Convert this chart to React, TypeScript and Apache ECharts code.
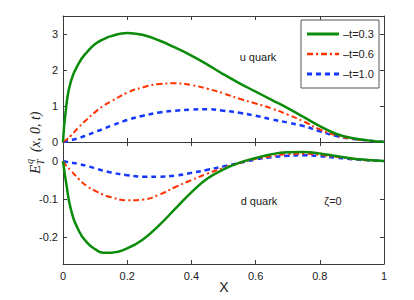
import React, { useEffect, useRef } from "react";
import * as echarts from "echarts";

const xs = [0, 0.01, 0.025, 0.05, 0.075, 0.1, 0.125, 0.15, 0.2, 0.25, 0.3, 0.35, 0.4, 0.45, 0.5, 0.55, 0.6, 0.65, 0.7, 0.75, 0.8, 0.85, 0.9, 0.95, 1.0];

const seriesNames = ["–t=0.3", "–t=0.6", "–t=1.0"];

const uT03 = [0, 0.98, 1.7, 2.2, 2.5, 2.72, 2.85, 2.94, 3.03, 2.97, 2.82, 2.62, 2.4, 2.15, 1.88, 1.63, 1.4, 1.17, 0.94, 0.69, 0.44, 0.23, 0.11, 0.045, 0];
const uT06 = [0, 0.06, 0.18, 0.42, 0.63, 0.83, 1.0, 1.13, 1.37, 1.52, 1.61, 1.63, 1.58, 1.48, 1.35, 1.2, 1.07, 0.93, 0.76, 0.57, 0.35, 0.19, 0.09, 0.04, 0];
const uT10 = [0, 0.02, 0.05, 0.11, 0.19, 0.28, 0.36, 0.45, 0.61, 0.73, 0.82, 0.87, 0.9, 0.91, 0.87, 0.81, 0.73, 0.63, 0.54, 0.44, 0.3, 0.17, 0.09, 0.04, 0];

const dT03 = [0, -0.058, -0.128, -0.184, -0.214, -0.231, -0.2405, -0.2405, -0.229, -0.205, -0.168, -0.125, -0.082, -0.046, -0.022, -0.004, 0.008, 0.018, 0.023, 0.024, 0.02, 0.013, 0.007, 0.003, 0];
const dT06 = [0, -0.012, -0.025, -0.048, -0.066, -0.078, -0.088, -0.095, -0.103, -0.101, -0.088, -0.068, -0.05, -0.033, -0.018, -0.005, 0.006, 0.013, 0.018, 0.019, 0.016, 0.011, 0.006, 0.002, 0];
const dT10 = [0, -0.002, -0.004, -0.008, -0.013, -0.019, -0.025, -0.03, -0.037, -0.041, -0.041, -0.038, -0.031, -0.023, -0.014, -0.005, 0.004, 0.01, 0.014, 0.015, 0.013, 0.009, 0.005, 0.002, 0];

const xTicks = [0, 0.2, 0.4, 0.6, 0.8, 1];
const uTicks = [0, 1, 2, 3];
const dTicks = [-0.2, -0.1, 0];

const colors = ["#0a8c0a", "#ff3300", "#1438ff"];
const lineTypes: any[] = ["solid", [6, 3, 2, 3], [5, 4]];
const lineWidths = [2.5, 2, 2.5];

const AXIS = "#3a3a3a";
const FONT = "Liberation Sans";

function pairs(vals: number[]) {
  return xs.map((x, i) => [x, vals[i]]);
}

export default function App() {
  const ref = useRef<HTMLDivElement>(null);
  useEffect(() => {
    if (!ref.current) return;
    const chart = echarts.init(ref.current, null, { renderer: "svg" });

    const xBase = (gridIndex: number, position: string, labels: boolean) => ({
      type: "value",
      gridIndex,
      position,
      min: 0,
      max: 1,
      interval: 0.2,
      axisLine: { show: true, onZero: false, lineStyle: { color: AXIS, width: 1 } },
      axisTick: { show: true, inside: true, length: 4, lineStyle: { color: AXIS } },
      axisLabel: {
        show: labels,
        color: "#222",
        fontSize: 11,
        fontFamily: FONT,
        margin: 6,
        customValues: xTicks,
      },
      splitLine: { show: false },
    });
    const yBase = (gridIndex: number, position: string, labels: boolean, min: number, max: number, ticks: number[]) => ({
      type: "value",
      gridIndex,
      position,
      min,
      max,
      axisLine: { show: true, onZero: false, lineStyle: { color: AXIS, width: 1 } },
      axisTick: { show: true, inside: true, length: 4, lineStyle: { color: AXIS }, customValues: ticks },
      axisLabel: {
        show: labels,
        color: "#222",
        fontSize: 11,
        fontFamily: FONT,
        margin: 5,
        customValues: ticks,
      },
      splitLine: { show: false },
    });

    const mk = (vals: number[], i: number, axisIdx: number) => ({
      type: "line",
      name: seriesNames[i],
      xAxisIndex: axisIdx,
      yAxisIndex: axisIdx,
      data: pairs(vals),
      showSymbol: false,
      symbol: "none",
      smooth: 0.5,
      lineStyle: { color: colors[i], width: lineWidths[i], type: lineTypes[i] },
      itemStyle: { color: colors[i] },
      z: 3 - i,
    });

    // legend drawn as graphic elements (box, line samples, labels)
    const legendX = 301;
    const legendY = 20;
    const legendItems: any[] = [
      {
        type: "rect",
        shape: { x: legendX, y: legendY, width: 78, height: 68 },
        style: { fill: "#fff", stroke: "#555", lineWidth: 1 },
        z: 10,
      },
    ];
    seriesNames.forEach((name, i) => {
      const cy = legendY + 14 + i * 20;
      legendItems.push({
        type: "line",
        shape: { x1: legendX + 6, y1: cy, x2: legendX + 38, y2: cy },
        style: { stroke: colors[i], lineWidth: lineWidths[i] + 0.5, lineDash: lineTypes[i] === "solid" ? null : lineTypes[i] },
        z: 11,
      });
      legendItems.push({
        type: "text",
        x: legendX + 42,
        y: cy,
        style: { text: name, fill: "#222", font: `11px ${FONT}`, align: "left", verticalAlign: "middle" },
        z: 11,
      });
    });

    chart.setOption({
      animation: false,
      backgroundColor: "#fff",
      grid: [
        { left: 63, top: 16, width: 321, height: 126, show: false },
        { left: 63, top: 142, width: 321, height: 122, show: false },
      ],
      xAxis: [xBase(0, "bottom", false), xBase(0, "top", false), xBase(1, "bottom", true), xBase(1, "top", false)],
      yAxis: [
        yBase(0, "left", true, 0, 3.5, uTicks),
        yBase(0, "right", false, 0, 3.5, uTicks),
        yBase(1, "left", true, -0.27, 0.05, dTicks),
        yBase(1, "right", false, -0.27, 0.05, dTicks),
      ],
      series: [
        mk(uT03, 0, 0),
        mk(uT06, 1, 0),
        mk(uT10, 2, 0),
        mk(dT03, 0, 2),
        mk(dT06, 1, 2),
        mk(dT10, 2, 2),
      ],
      graphic: [
        ...legendItems,
        { type: "text", x: 258, y: 57, style: { text: "u quark", fill: "#222", font: `11px ${FONT}`, align: "center", verticalAlign: "middle" } },
        { type: "text", x: 259, y: 201, style: { text: "d quark", fill: "#222", font: `11px ${FONT}`, align: "center", verticalAlign: "middle" } },
        { type: "text", x: 333, y: 201, style: { text: "ζ=0", fill: "#222", font: `11px ${FONT}`, align: "center", verticalAlign: "middle" } },
        { type: "text", x: 224, y: 287, style: { text: "X", fill: "#222", font: `14px ${FONT}`, align: "center", verticalAlign: "middle" } },
        {
          type: "group",
          x: 35,
          y: 174,
          rotation: Math.PI / 2,
          children: [
            { type: "text", x: 0, y: 0, style: { text: "E", fill: "#222", font: `italic 15px 'Liberation Serif'`, align: "left", verticalAlign: "middle" } },
            { type: "text", x: 10, y: -6, style: { text: "q", fill: "#222", font: `italic 10px 'Liberation Serif'`, align: "left", verticalAlign: "middle" } },
            { type: "text", x: 9, y: 5, style: { text: "T", fill: "#222", font: `italic 10px 'Liberation Serif'`, align: "left", verticalAlign: "middle" } },
            { type: "text", x: 22, y: 0, style: { text: "(x, 0, t)", fill: "#222", font: `italic 14px 'Liberation Serif'`, align: "left", verticalAlign: "middle" } },
          ],
        },
      ],
    });
    return () => chart.dispose();
  }, []);
  return <div ref={ref} style={{ position: "fixed", left: 0, top: 0, width: 414, height: 300 }} />;
}
